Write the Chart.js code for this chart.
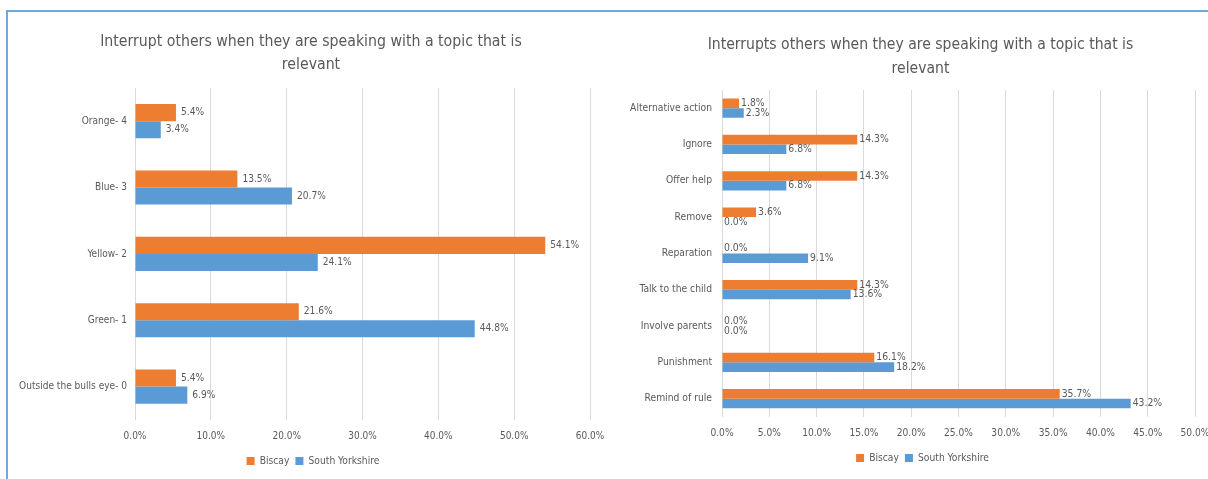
<!DOCTYPE html>
<html><head><meta charset="utf-8">
<script src="https://cdn.jsdelivr.net/npm/chart.js@4.4.0/dist/chart.umd.min.js"></script>
<style>
html,body{margin:0;padding:0;background:#fff;width:1208px;height:479px;overflow:hidden;}
#frame{position:absolute;left:6px;top:10px;width:1202px;height:469px;border-top:2px solid #6fa8dc;border-left:2px solid #6fa8dc;box-sizing:border-box;}
#c1{position:absolute;left:0;top:0;}
#c2{position:absolute;left:604px;top:0;}
</style></head>
<body>
<div id="frame"></div>
<canvas id="c1" width="604" height="479"></canvas>
<canvas id="c2" width="604" height="479"></canvas>
<script>
// ---- data ----
const seriesNames = ['Biscay', 'South Yorkshire'];
const seriesColors = ['#ED7D31', '#5B9BD5'];

const leftTitle = ['Interrupt others when they are speaking with a topic that is', 'relevant'];
const leftCategories = ['Orange- 4', 'Blue- 3', 'Yellow- 2', 'Green- 1', 'Outside the bulls eye- 0'];
const leftBiscay = [5.4, 13.5, 54.1, 21.6, 5.4];
const leftSouthYorkshire = [3.4, 20.7, 24.1, 44.8, 6.9];
const leftAxisMax = 60;
const leftAxisStep = 10;

const rightTitle = ['Interrupts others when they are speaking with a topic that is', 'relevant'];
const rightCategories = ['Alternative action', 'Ignore', 'Offer help', 'Remove', 'Reparation', 'Talk to the child', 'Involve parents', 'Punishment', 'Remind of rule'];
const rightBiscay = [1.8, 14.3, 14.3, 3.6, 0.0, 14.3, 0.0, 16.1, 35.7];
const rightSouthYorkshire = [2.3, 6.8, 6.8, 0.0, 9.1, 13.6, 0.0, 18.2, 43.2];
const rightAxisMax = 50;
const rightAxisStep = 5;

// ---- fonts ----
const mctx = document.createElement('canvas').getContext('2d');
function hasFont(name) {
  const t = 'abcdefghijklmnopqrstuvwxyz ABCDEFGHIJ 0123456789';
  for (const g of ['monospace', 'serif']) {
    mctx.font = '40px ' + g; const a = mctx.measureText(t).width;
    mctx.font = "40px '" + name + "', " + g; const b = mctx.measureText(t).width;
    if (a !== b) return true;
  }
  return false;
}
const FAMILY = ['Liberation Sans Narrow', 'DejaVu Sans Condensed', 'Liberation Sans'].find(hasFont) || 'sans-serif';
const FONT = "'" + FAMILY + "', sans-serif";
function fitSize(text, target, base) {
  mctx.font = base + 'px ' + FONT;
  const w = mctx.measureText(text).width;
  return Math.max(9, Math.min(base * 1.25, base * target / w));
}
const TEXT = '#595959';
const GRID = '#d9d9d9';

const valueLabels = {
  id: 'valueLabels',
  afterDatasetsDraw(chart, args, opts) {
    const ctx = chart.ctx;
    ctx.save();
    ctx.font = opts.size + 'px ' + FONT;
    ctx.fillStyle = TEXT;
    ctx.textBaseline = 'middle';
    ctx.textAlign = 'left';
    chart.data.datasets.forEach((ds, i) => {
      const meta = chart.getDatasetMeta(i);
      meta.data.forEach((bar, j) => {
        ctx.fillText(ds.data[j].toFixed(1) + '%', bar.x + opts.offset, bar.y);
      });
    });
    ctx.restore();
  }
};

// centre the title and legend over the whole chart box rather than the padded area
const shiftBlocks = {
  id: 'shiftBlocks',
  afterLayout(chart, args, opts) {
    if (chart.titleBlock) { chart.titleBlock.left += opts.title; chart.titleBlock.right += opts.title; }
    if (chart.legend) { chart.legend.left += opts.legend; chart.legend.right += opts.legend; }
  }
};

function makeChart(id, cfg) {
  return new Chart(document.getElementById(id), {
    type: 'bar',
    data: {
      labels: cfg.categories,
      datasets: [
        { label: seriesNames[0], data: cfg.a, backgroundColor: seriesColors[0], borderWidth: 0 },
        { label: seriesNames[1], data: cfg.b, backgroundColor: seriesColors[1], borderWidth: 0 }
      ]
    },
    plugins: [valueLabels, shiftBlocks],
    options: {
      indexAxis: 'y',
      responsive: false,
      animation: false,
      datasets: { bar: { categoryPercentage: cfg.catPct, barPercentage: 1 } },
      layout: { padding: cfg.padding },
      scales: {
        x: {
          min: 0, max: cfg.max,
          grid: { color: GRID, drawTicks: false, lineWidth: 1 },
          border: { display: false },
          ticks: {
            stepSize: cfg.step, color: TEXT, padding: cfg.tickPad,
            font: { family: FONT, size: cfg.xFont },
            maxRotation: 0, autoSkip: false,
            callback: v => Number(v).toFixed(1) + '%'
          },
          afterFit(s) { s.height = cfg.xHeight; s.paddingLeft = 0; s.paddingRight = 0; }
        },
        y: {
          grid: { display: false, drawTicks: false },
          border: { display: false },
          ticks: { color: TEXT, padding: cfg.yPad, font: { family: FONT, size: cfg.yFont }, autoSkip: false },
          afterFit(s) { s.width = cfg.yWidth; }
        }
      },
      plugins: {
        title: {
          display: true, text: cfg.title, color: TEXT,
          font: { family: FONT, size: cfg.titleFont, weight: 'normal', lineHeight: cfg.titleLH / cfg.titleFont },
          padding: cfg.titlePad
        },
        legend: {
          position: 'bottom',
          labels: {
            color: TEXT, boxWidth: 8, boxHeight: 8, padding: cfg.legendPad,
            font: { family: FONT, size: cfg.legendFont }
          }
        },
        tooltip: { enabled: false },
        valueLabels: { size: cfg.labelFont, offset: cfg.labelOffset },
        shiftBlocks: { title: cfg.titleShift, legend: cfg.legendShift }
      }
    }
  });
}

makeChart('c1', {
  categories: leftCategories, a: leftBiscay, b: leftSouthYorkshire, title: leftTitle,
  max: leftAxisMax, step: leftAxisStep, catPct: 0.515,
  padding: { left: 0, right: 14, top: 10, bottom: 3 },
  yWidth: 135, yPad: 8, xHeight: 30, tickPad: 11,
  titleFont: fitSize(leftTitle[0], 422, 17), titleLH: 23, titlePad: { top: 20.5, bottom: 11.5 },
  yFont: fitSize('Outside the bulls eye- 0', 108, 12),
  xFont: fitSize('10.0%', 28.5, 12),
  labelFont: fitSize('13.5%', 29, 12),
  legendFont: fitSize('South Yorkshire', 71, 12),
  legendPad: 6, labelOffset: 5, titleShift: 16, legendShift: 18
});

makeChart('c2', {
  categories: rightCategories, a: rightBiscay, b: rightSouthYorkshire, title: rightTitle,
  max: rightAxisMax, step: rightAxisStep, catPct: 0.53,
  padding: { left: 0, right: 13, top: 10, bottom: 6 },
  yWidth: 118, yPad: 10, xHeight: 30, tickPad: 10,
  titleFont: fitSize(rightTitle[0], 426, 17), titleLH: 24, titlePad: { top: 23, bottom: 9 },
  yFont: fitSize('Alternative action', 82, 12),
  xFont: fitSize('10.0%', 29, 12),
  labelFont: fitSize('14.3%', 29.5, 12),
  legendFont: fitSize('South Yorkshire', 71, 12),
  legendPad: 6, labelOffset: 2, titleShift: 21, legendShift: 23
});
</script>
</body></html>
